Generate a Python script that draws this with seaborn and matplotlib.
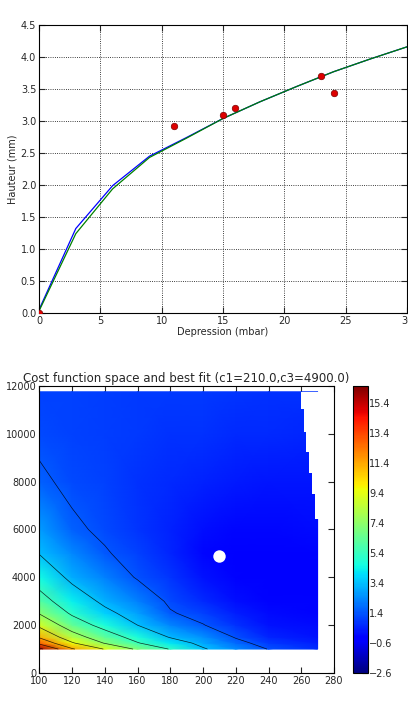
import numpy as np
import matplotlib
matplotlib.use("Agg")
import matplotlib.pyplot as plt
import seaborn as sns

# measured points (depression in mbar, height in mm)
depression = [0, 11, 15, 16, 23, 24]
hauteur = [0.0, 2.92, 3.09, 3.21, 3.71, 3.44]

# two fitted curves sampled every 3 mbar
fit_x = [0, 3, 6, 9, 12, 15, 18, 21, 24, 27, 30]
fit_blue = [0.05, 1.32, 1.99, 2.45, 2.74, 3.04, 3.30, 3.54, 3.77, 3.97, 4.16]
fit_green = [0.03, 1.24, 1.94, 2.43, 2.73, 3.04, 3.30, 3.54, 3.77, 3.97, 4.16]

c1_grid = [100, 120, 140, 160, 180, 200, 220, 240, 270]
c3_grid = [1000, 1250, 1500, 2000, 2500, 3000, 4000, 5000, 6000, 8000, 10000, 11760]
cost_c1_100 = [15.9, 12.9, 11.2, 9.0, 7.3, 6.15, 4.55, 3.35, 2.75, 1.6, 1.15, 1.05]
cost_c1_120 = [11.6, 9.6, 8.25, 6.4, 5.15, 4.3, 3.05, 2.35, 1.6, 1.15, 1.05, 1.0]
cost_c1_140 = [9.3, 7.3, 6.3, 4.8, 3.75, 3.1, 2.2, 1.5, 1.2, 1.0, 0.95, 0.95]
cost_c1_160 = [7.1, 5.5, 4.75, 3.4, 2.8, 2.25, 1.3, 1.0, 0.8, 0.75, 0.85, 0.9]
cost_c1_180 = [5.3, 4.2, 3.3, 2.3, 1.5, 1.2, 0.8, 0.5, 0.45, 0.55, 0.75, 0.9]
cost_c1_200 = [3.55, 3.0, 2.5, 1.45, 1.0, 0.6, 0.15, -0.1, 0.05, 0.4, 0.7, 0.85]
cost_c1_220 = [2.45, 1.8, 1.3, 0.7, 0.35, 0.05, -0.2, -0.3, -0.1, 0.25, 0.6, 0.8]
cost_c1_240 = [1.35, 0.9, 0.5, 0.15, -0.05, -0.2, -0.3, -0.25, -0.1, 0.2, 0.55, 0.75]
cost_c1_270 = [0.65, 0.35, 0.15, -0.05, -0.15, -0.2, -0.25, -0.2, -0.05, 0.2, 0.5, 0.7]

# upper right part of the parameter space was not computed
cut_c3 = [6430, 7500, 8370, 9240, 10090, 11030, 11760]
cut_c1 = [268.2, 266.4, 264.7, 263.1, 261.7, 260.1, 260.1]

best_c1 = 210.0
best_c3 = 4900.0
cbar_ticks = [-2.6, -0.6, 1.4, 3.4, 5.4, 7.4, 9.4, 11.4, 13.4, 15.4]

sns.set_style("ticks", {"xtick.direction": "in", "ytick.direction": "in"})
plt.rcParams["font.family"] = ["DejaVu Sans"]
plt.rcParams["axes.edgecolor"] = "black"
plt.rcParams["axes.linewidth"] = 0.8

fig = plt.figure(figsize=(4.08, 7.03), dpi=100)
ax1 = fig.add_axes([0.0956, 0.5548, 0.9024, 0.4096])
ax2 = fig.add_axes([0.0963, 0.0427, 0.7223, 0.4082])
cax = fig.add_axes([0.865, 0.0427, 0.0368, 0.4082])

# --- top: measurements and fits
sns.lineplot(x=fit_x, y=fit_blue, color="blue", lw=0.9, ax=ax1)
sns.lineplot(x=fit_x, y=fit_green, color="green", lw=0.9, ax=ax1)
sns.scatterplot(x=depression, y=hauteur, color="#dd0000", s=22,
                edgecolor="#7a0000", linewidth=0.5, zorder=4, ax=ax1)
ax1.set_xlim(0, 30)
ax1.set_ylim(0, 4.5)
ax1.set_xticks(range(0, 31, 5))
ax1.set_yticks(np.arange(0, 4.51, 0.5))
ax1.grid(True, color="black", linestyle=":", linewidth=0.6)
ax1.tick_params(direction="in", top=True, right=True, labelsize=7, length=4, pad=2)
ax1.set_xlabel("Depression (mbar)", fontsize=7, labelpad=1)
ax1.set_ylabel("Hauteur (mm)", fontsize=7, labelpad=2)

# --- bottom: cost function map
C1, C3 = np.meshgrid(c1_grid, c3_grid)
Z = np.array([cost_c1_100, cost_c1_120, cost_c1_140, cost_c1_160, cost_c1_180,
              cost_c1_200, cost_c1_220, cost_c1_240, cost_c1_270]).T
mesh = ax2.pcolormesh(C1, C3, Z, shading="gouraud", cmap="jet", vmin=-2.6, vmax=16.55)
ax2.contour(C1, C3, Z, levels=cbar_ticks, colors="black", linewidths=0.5, alpha=0.8)
ax2.fill_betweenx(cut_c3, cut_c1, 272, step="post", color="white", lw=0, zorder=3)
ax2.scatter([best_c1], [best_c3], s=80, color="white", zorder=5, linewidths=0)
ax2.set_xlim(100, 280)
ax2.set_ylim(0, 12000)
ax2.set_xticks(range(100, 281, 20))
ax2.set_yticks(range(0, 12001, 2000))
ax2.tick_params(direction="in", top=True, right=True, labelsize=7, length=4, pad=2)
ax2.set_title("Cost function space and best fit (c1=%.1f,c3=%.1f)" % (best_c1, best_c3),
              fontsize=8.5, pad=3)

cbar = fig.colorbar(mesh, cax=cax, ticks=cbar_ticks)
cbar.ax.tick_params(direction="in", labelsize=7, length=4, pad=1)
cbar.outline.set_linewidth(0.8)

fig.savefig("out.png", dpi=100)
